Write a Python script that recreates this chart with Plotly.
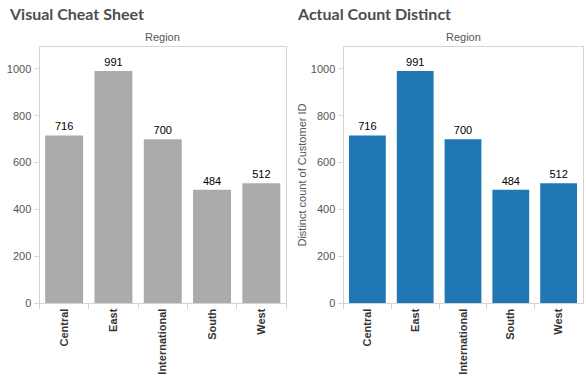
import plotly.graph_objects as go

regions = ["Central", "East", "International", "South", "West"]
counts = [716, 991, 700, 484, 512]
y_ticks = [0, 200, 400, 600, 800, 1000]

fig = go.Figure()

fig.add_trace(go.Bar(x=regions, y=counts, marker=dict(color="#ababab", line=dict(width=0)), text=counts,
                     textposition="outside", cliponaxis=False,
                     textfont=dict(color="#000000", size=11, family="Liberation Sans"),
                     xaxis="x", yaxis="y", width=0.77))
fig.add_trace(go.Bar(x=regions, y=counts, marker=dict(color="#1f77b4", line=dict(width=0)), text=counts,
                     textposition="outside", cliponaxis=False,
                     textfont=dict(color="#000000", size=11, family="Liberation Sans"),
                     xaxis="x2", yaxis="y2", width=0.77))

axis_common_x = dict(showgrid=False, showline=True, linecolor="#d4d4d4", mirror=True,
                     ticks="outside", ticklen=5, tickcolor="#d4d4d4", tickson="boundaries",
                     tickangle=-90,
                     tickfont=dict(family="Liberation Sans", size=11, color="#333333", weight="bold"))
axis_common_y = dict(showgrid=False, showline=True, linecolor="#d4d4d4", mirror=True,
                     ticks="outside", ticklen=5, tickcolor="#d4d4d4", range=[0, 1094],
                     tickvals=y_ticks, zeroline=False,
                     tickfont=dict(family="Liberation Sans", size=11, color="#555555"))

y0, y1 = (390 - 308) / 390, (390 - 47.5) / 390

fig.update_layout(
    width=586, height=390, margin=dict(l=0, r=0, t=0, b=0),
    paper_bgcolor="white", plot_bgcolor="white", showlegend=False,
    xaxis=dict(domain=[39.5 / 586, 286 / 586], anchor="y", **axis_common_x),
    yaxis=dict(domain=[y0, y1], anchor="x", **axis_common_y),
    xaxis2=dict(domain=[343.5 / 586, 582.5 / 586], anchor="y2", **axis_common_x),
    yaxis2=dict(domain=[y0, y1], anchor="x2",
                title=dict(text="Distinct count of Customer ID", standoff=1,
                           font=dict(family="Liberation Sans", size=11, color="#555555")),
                **axis_common_y),
    annotations=[
        dict(text="<b>Visual Cheat Sheet</b>", x=7 / 586, y=1 - 2 / 390, xref="paper", yref="paper",
             xanchor="left", yanchor="top", showarrow=False,
             font=dict(family="Lato", size=16, color="#4d4d4d")),
        dict(text="<b>Actual Count Distinct</b>", x=295 / 586, y=1 - 2 / 390, xref="paper", yref="paper",
             xanchor="left", yanchor="top", showarrow=False,
             font=dict(family="Lato", size=16, color="#4d4d4d")),
        dict(text="Region", x=(39.5 + 286) / 2 / 586, y=1 - 38 / 390, xref="paper", yref="paper",
             xanchor="center", yanchor="middle", showarrow=False,
             font=dict(family="Liberation Sans", size=11, color="#555555")),
        dict(text="Region", x=(343.5 + 582.5) / 2 / 586, y=1 - 38 / 390, xref="paper", yref="paper",
             xanchor="center", yanchor="middle", showarrow=False,
             font=dict(family="Liberation Sans", size=11, color="#555555")),
    ],
)

fig.write_html("out.html", config={"displayModeBar": False},
               post_script="document.body.style.margin='0';document.body.style.overflow='hidden';")
